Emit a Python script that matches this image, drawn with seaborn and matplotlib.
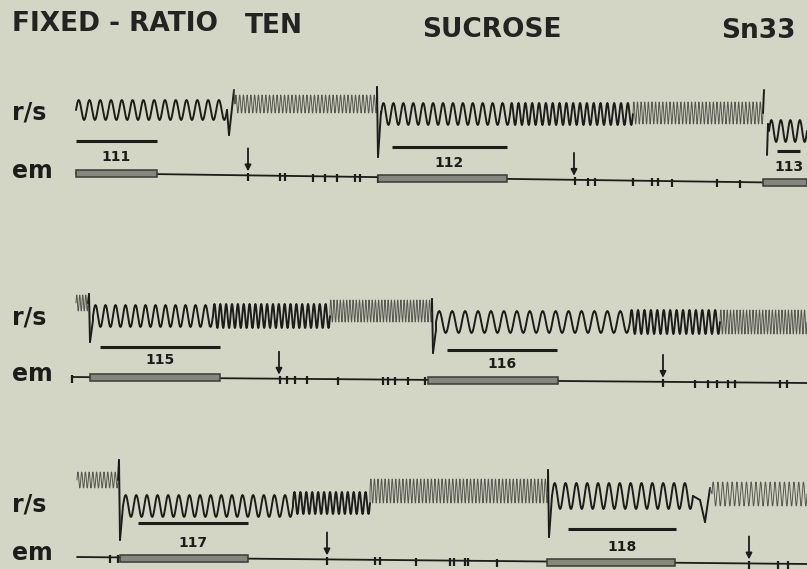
import numpy as np
import pandas as pd
import matplotlib
matplotlib.use("Agg")
import matplotlib.pyplot as plt
from matplotlib.patches import Rectangle
import seaborn as sns

sns.set_theme(style="white")
plt.rcParams["font.family"] = ["DejaVu Sans"]

BG = "#d3d6c4"
INK = "#1c1c1a"

# ---------------- data ----------------
TITLE_WORDS = ["FIXED - RATIO", "TEN", "SUCROSE", "Sn33"]
CHANNELS = ["r/s", "em"]

# r/s trace pieces: ("w", x0, x1, cycles, half_amp, y_center) = oscillation run,
#                   ("p", x, y) = single pen excursion point
RS_ROW1 = [("w", 76, 227, 14, 10, 110), ("p", 229, 135), ("p", 234, 90),
           ("w", 235, 377, 38, 9, 104), ("p", 377, 87), ("p", 378, 157),
           ("p", 381, 112), ("w", 381, 510, 13, 11, 114),
           ("w", 510, 633, 18, 11, 114), ("w", 633, 763, 36, 11, 113),
           ("p", 764, 90)]
RS_ROW1B = [("p", 767, 155), ("p", 768, 124), ("w", 769, 807, 4, 11, 131)]
RS_ROW2 = [("w", 76, 88, 4, 8, 303), ("p", 89, 294), ("p", 90, 342),
           ("p", 93, 320), ("w", 93, 213, 12, 11, 316),
           ("w", 213, 330, 20, 12, 316), ("w", 330, 432, 32, 11, 311),
           ("p", 432, 299), ("p", 433, 353), ("p", 436, 330),
           ("w", 436, 630, 15, 11, 322), ("w", 630, 720, 14, 12, 322),
           ("w", 720, 807, 27, 12, 322)]
RS_ROW3 = [("w", 77, 118, 11, 8, 480), ("p", 119, 460), ("p", 120, 540),
           ("p", 123, 506), ("w", 123, 293, 16, 11, 506),
           ("w", 293, 370, 13, 11, 503), ("w", 370, 548, 50, 12, 491),
           ("p", 548, 470), ("p", 549, 537), ("p", 552, 496),
           ("w", 552, 693, 13, 13, 496), ("p", 700, 500), ("p", 705, 522),
           ("p", 710, 488), ("w", 712, 807, 20, 12, 494)]
RS_TRACES = [RS_ROW1, RS_ROW1B, RS_ROW2, RS_ROW3]

# label rows
LABEL_Y = [112, 317, 505]
EM_LABEL_Y = [171, 374, 553]

# em baselines: (x_start, x_end, y_start, y_end)
EM_LINES = [(76, 807, 173, 183), (72, 807, 377, 383), (77, 807, 557, 564)]
# thick stimulus bars on em lines
EM_BARS = [[(76, 157), (378, 507), (763, 807)],
           [(90, 220), (428, 558)],
           [(120, 248), (547, 675)]]
# em pen marks
EM_TICKS = [[248, 280, 285, 313, 325, 337, 355, 360, 378, 575, 588, 595,
             633, 652, 658, 672, 717, 740],
            [72, 280, 287, 295, 307, 338, 383, 388, 395, 408, 425, 663, 695,
             708, 717, 728, 735, 780, 787],
            [110, 118, 327, 375, 380, 416, 450, 454, 465, 468, 497, 749, 778,
             788]]
ARROWS = [[248, 574], [279, 663], [327, 749]]

# numbered time bars
PERIOD_LABELS = ["111", "112", "113", "115", "116", "117", "118"]
PERIOD_X0 = [76, 392, 777, 100, 447, 138, 568]
PERIOD_X1 = [157, 507, 800, 220, 557, 248, 676]
PERIOD_BAR_Y = [141, 147, 151, 347, 350, 523, 529]
PERIOD_TEXT_Y = [157, 163, 167, 360, 364, 543, 547]


# ---------------- build and draw ----------------
def build_pieces(trace):
    """Return list of (xs, ys, dense) runs, each starting at previous end."""
    runs = []
    last = None
    for piece in trace:
        if piece[0] == "w":
            _, x0, x1, cyc, amp, yc = piece
            n = int(cyc * 16) + 1
            xs = np.linspace(x0, x1, n)
            ys = yc - amp * np.sin(2 * np.pi * cyc * (xs - x0) / (x1 - x0))
            dense = (x1 - x0) / cyc < 5.0
            if last is not None:
                xs = np.concatenate([[last[0]], xs])
                ys = np.concatenate([[last[1]], ys])
            runs.append((xs, ys, dense))
            last = (xs[-1], ys[-1])
        else:
            _, x, y = piece
            if last is not None:
                runs.append((np.array([last[0], x]), np.array([last[1], y]), False))
            last = (x, y)
    return runs


fig = plt.figure(figsize=(8.07, 5.69), dpi=100, facecolor=BG)
ax = fig.add_axes([0, 0, 1, 1])
ax.set_facecolor(BG)
ax.set_xlim(0, 807)
ax.set_ylim(569, 0)
ax.axis("off")

# title (words placed as they sit on the page)
title_x = [12, 245, 422, 721]
title_y = [24, 26, 30, 31]
for t, x, y in zip(TITLE_WORDS, title_x, title_y):
    ax.text(x, y, t, fontsize=19, fontweight="bold", color="#232321",
            ha="left", va="center")

# channel labels
for yr, ye in zip(LABEL_Y, EM_LABEL_Y):
    ax.text(12, yr, CHANNELS[0], fontsize=17, fontweight="bold", color=INK,
            ha="left", va="center")
    ax.text(12, ye, CHANNELS[1], fontsize=17, fontweight="bold", color=INK,
            ha="left", va="center")

# r/s traces
for trace in RS_TRACES:
    for xs, ys, dense in build_pieces(trace):
        df = pd.DataFrame({"x": xs, "y": ys})
        sns.lineplot(data=df, x="x", y="y", ax=ax, sort=False, estimator=None,
                     color="#55564f" if dense else INK,
                     linewidth=0.7 if dense else 1.4)

# em lines, bars, ticks, arrows
for (x0, x1, y0, y1), bars, ticks, arrows in zip(EM_LINES, EM_BARS, EM_TICKS, ARROWS):
    slope = (y1 - y0) / (x1 - x0)
    yat = lambda x: y0 + slope * (x - x0)
    sns.lineplot(x=[x0, x1], y=[y0, y1], ax=ax, color=INK, linewidth=1.3)
    for bx0, bx1 in bars:
        yc = yat((bx0 + bx1) / 2)
        ax.add_patch(Rectangle((bx0, yc - 3.5), bx1 - bx0, 7,
                               facecolor="#85877f", edgecolor="#3a3b37",
                               linewidth=1.1, zorder=3))
    for tx in ticks:
        yt = yat(tx)
        ax.plot([tx, tx], [yt - 2.5, yt + 5.5], color=INK, linewidth=1.6,
                solid_capstyle="butt")
    for axx in arrows:
        yt = yat(axx)
        ax.annotate("", xy=(axx, yt - 4), xytext=(axx, yt - 27),
                    arrowprops=dict(arrowstyle="-|>", color=INK, lw=1.3,
                                    mutation_scale=9, shrinkA=0, shrinkB=0))

# numbered time bars
for lab, x0, x1, yb, yt in zip(PERIOD_LABELS, PERIOD_X0, PERIOD_X1,
                               PERIOD_BAR_Y, PERIOD_TEXT_Y):
    ax.plot([x0, x1], [yb, yb], color=INK, linewidth=2.2, solid_capstyle="butt")
    ax.text((x0 + x1) / 2, yt, lab, fontsize=10, fontweight="bold",
            color=INK, ha="center", va="center")

fig.savefig("out.png", dpi=100, facecolor=BG)
